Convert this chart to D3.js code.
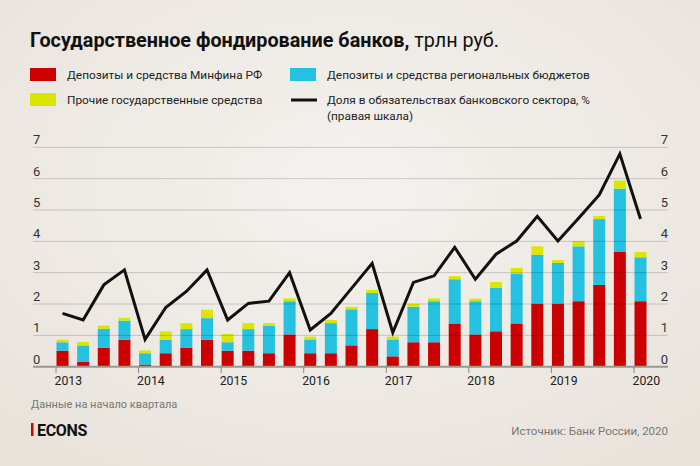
<!DOCTYPE html>
<html><head><meta charset="utf-8">
<script src="https://cdn.jsdelivr.net/npm/d3@7"></script>
<style>
html,body{margin:0;padding:0;}
svg{display:block;font-family:Roboto,"Noto Sans",sans-serif;}
</style></head>
<body>
<svg id="c" width="700" height="466"></svg>
<script>
// Quarterly data, 2013 Q1 – 2020 Q1 (start of quarter)
const quarters = ["2013Q1","2013Q2","2013Q3","2013Q4","2014Q1","2014Q2","2014Q3","2014Q4",
  "2015Q1","2015Q2","2015Q3","2015Q4","2016Q1","2016Q2","2016Q3","2016Q4",
  "2017Q1","2017Q2","2017Q3","2017Q4","2018Q1","2018Q2","2018Q3","2018Q4",
  "2019Q1","2019Q2","2019Q3","2019Q4","2020Q1"];
const minfin =   [0.51,0.16,0.60,0.86,0.07,0.43,0.60,0.86,0.51,0.51,0.43,1.03,0.43,0.43,0.68,1.20,0.33,0.78,0.78,1.38,1.03,1.13,1.38,2.00,2.00,2.09,2.61,3.66,2.09];
const regional = [0.27,0.52,0.61,0.61,0.36,0.43,0.60,0.69,0.27,0.69,0.87,1.06,0.44,0.96,1.15,1.15,0.54,1.13,1.31,1.41,1.06,1.39,1.59,1.57,1.31,1.75,2.10,2.02,1.40];
const other =    [0.08,0.11,0.10,0.09,0.09,0.27,0.19,0.27,0.26,0.19,0.09,0.09,0.09,0.10,0.08,0.10,0.09,0.10,0.09,0.10,0.08,0.18,0.18,0.27,0.09,0.17,0.10,0.26,0.17];
const share =    [1.70,1.49,2.61,3.09,0.87,1.89,2.40,3.09,1.49,2.02,2.09,3.00,1.17,1.70,2.50,3.30,1.09,2.69,2.90,3.81,2.79,3.59,4.01,4.80,4.01,4.74,5.48,6.79,4.71];
const yearTicks = [2013,2014,2015,2016,2017,2018,2019,2020];
const yTicks = [0,1,2,3,4,5,6,7];
const seriesNames = ["Депозиты и средства Минфина РФ","Депозиты и средства региональных бюджетов","Прочие государственные средства"];
const lineName = ["Доля в обязательствах банковского сектора, %","(правая шкала)"];
const colors = ["#cc0000","#25c1e0","#dbe600"];

const svg = d3.select("#c");
// background
const defs = svg.append("defs");
const rg = defs.append("radialGradient").attr("id","bg").attr("cx","50%").attr("cy","40%").attr("r","75%");
rg.append("stop").attr("offset","0%").attr("stop-color","#f4f2ef");
rg.append("stop").attr("offset","100%").attr("stop-color","#e8e2da");
svg.append("rect").attr("width",700).attr("height",466).attr("fill","url(#bg)");

// title
const t = svg.append("text").attr("x",30).attr("y",47).attr("font-size",19.8).attr("fill","#111");
t.append("tspan").attr("font-weight","bold").text("Государственное фондирование банков,");
t.append("tspan").attr("font-weight","normal").text(" трлн руб.");

// legend
const leg = svg.append("g").attr("font-size",11.8).attr("fill","#222");
const legItems = [
  {x:30,y:68,type:"rect",c:colors[0],label:[seriesNames[0]]},
  {x:290,y:68,type:"rect",c:colors[1],label:[seriesNames[1]]},
  {x:30,y:93,type:"rect",c:colors[2],label:[seriesNames[2]]},
  {x:290,y:93,type:"line",c:"#111",label:lineName}
];
legItems.forEach(it=>{
  if(it.type==="rect") leg.append("rect").attr("x",it.x).attr("y",it.y).attr("width",26).attr("height",13).attr("fill",it.c);
  else leg.append("line").attr("x1",it.x+1).attr("x2",it.x+27).attr("y1",it.y+7).attr("y2",it.y+7).attr("stroke",it.c).attr("stroke-width",3);
  it.label.forEach((l,i)=>leg.append("text").attr("x",it.x+37).attr("y",it.y+11+i*15.5).text(l));
});

// scales
const x = d3.scaleLinear().domain([2013,2020]).range([56,634]);
const y = d3.scaleLinear().domain([0,7]).range([366.7,147.3]);
const yR = d3.scaleLinear().domain([0,7]).range([366.7,147.3]);
const qx = i => x(2013 + i/4) + 6.5;
const bw = 12;

// stacked bars
const table = quarters.map((q,i)=>({q,i,minfin:minfin[i],regional:regional[i],other:other[i]}));
const stack = d3.stack().keys(["minfin","regional","other"])(table);
const gBars = svg.append("g");
stack.forEach((s,k)=>{
  gBars.selectAll(null).data(s).enter().append("rect")
    .attr("x",d=>qx(d.data.i)-bw/2).attr("width",bw)
    .attr("y",d=>y(d[1])).attr("height",d=>y(d[0])-y(d[1]))
    .attr("fill",colors[k]);
});

// gridlines (on top, translucent)
const grid = svg.append("g");
yTicks.forEach(v=>{
  grid.append("line").attr("x1",33).attr("x2",668).attr("y1",y(v)).attr("y2",y(v))
    .attr("stroke", v===0 ? "#9a9794" : "rgba(0,0,0,0.17)").attr("stroke-width", v===0?2:1);
});

// left / right axis labels
const axL = svg.append("g").attr("font-size",13).attr("fill","#333");
yTicks.forEach(v=>{
  axL.append("text").attr("x",33).attr("y",y(v)-3).text(v);
  axL.append("text").attr("x",668).attr("y",yR(v)-3).attr("text-anchor","end").text(v);
});

// x axis ticks and labels
const axX = svg.append("g").attr("font-size",12.3).attr("fill","#222");
yearTicks.forEach(yr=>{
  axX.append("line").attr("x1",x(yr)).attr("x2",x(yr)).attr("y1",367).attr("y2",373).attr("stroke","#8a8784").attr("stroke-width",1);
  axX.append("text").attr("x",x(yr)-1.5).attr("y",385).text(yr);
});

// line
const line = d3.line().x((d,i)=>qx(i)).y(d=>yR(d));
svg.append("path").datum(share).attr("d",line).attr("fill","none").attr("stroke","#111").attr("stroke-width",3).attr("stroke-linejoin","miter");

// footer
svg.append("text").attr("x",31).attr("y",408).attr("font-size",11).attr("fill","#777").text("Данные на начало квартала");
svg.append("rect").attr("x",31).attr("y",423).attr("width",2.5).attr("height",13).attr("fill","#d40000");
svg.append("text").attr("x",37).attr("y",436).attr("font-size",16).attr("font-weight","bold").attr("fill","#111").attr("letter-spacing",-0.3).text("ECONS");
svg.append("text").attr("x",668).attr("y",435).attr("text-anchor","end").attr("font-size",11.5).attr("fill","#777").text("Источник: Банк России, 2020");
</script>
</body></html>
